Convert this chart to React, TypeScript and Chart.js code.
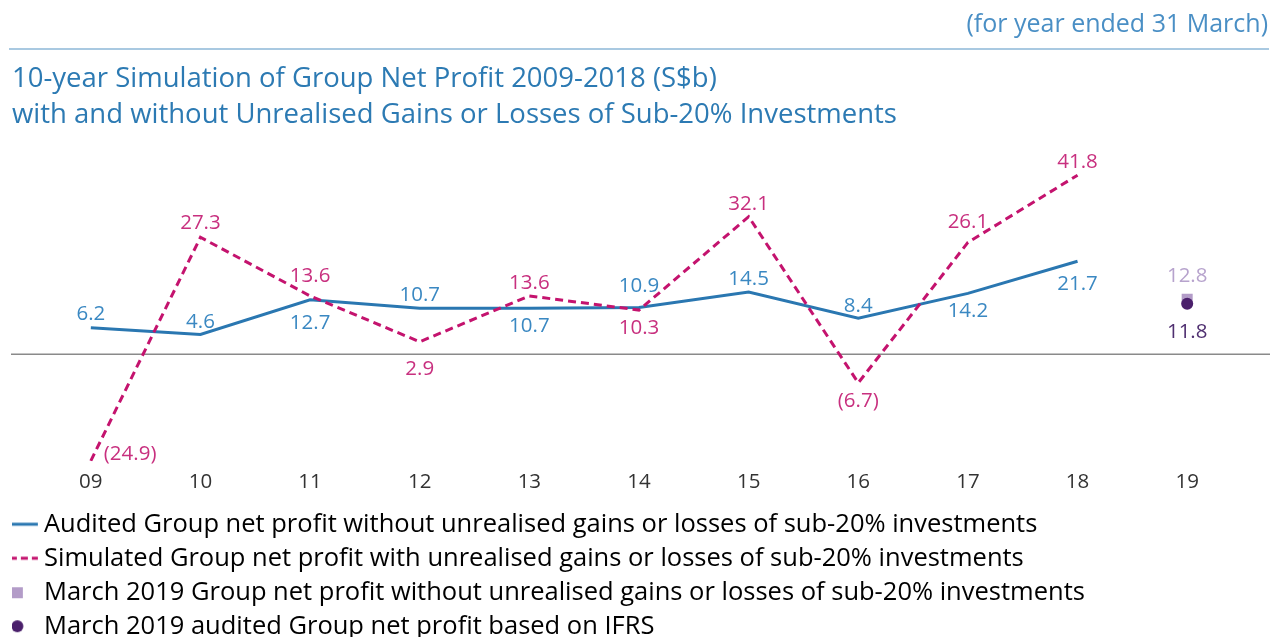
import { useEffect, useRef } from "react";
import { Chart, registerables } from "chart.js";

Chart.register(...registerables);

// ---------- data ----------
const years = ["09", "10", "11", "12", "13", "14", "15", "16", "17", "18", "19"];
const auditedProfit = [6.2, 4.6, 12.7, 10.7, 10.7, 10.9, 14.5, 8.4, 14.2, 21.7, null];
const simulatedProfit = [-24.9, 27.3, 13.6, 2.9, 13.6, 10.3, 32.1, -6.7, 26.1, 41.8, null];
const march2019WithoutUnrealised = [null, null, null, null, null, null, null, null, null, null, 12.8];
const march2019Ifrs = [null, null, null, null, null, null, null, null, null, null, 11.8];

const legendTexts = [
  "Audited Group net profit without unrealised gains or losses of sub-20% investments",
  "Simulated Group net profit with unrealised gains or losses of sub-20% investments",
  "March 2019 Group net profit without unrealised gains or losses of sub-20% investments",
  "March 2019 audited Group net profit based on IFRS",
];
const titleText = "(for year ended 31 March)";
const subtitleLines = [
  "10-year Simulation of Group Net Profit 2009-2018 (S$b)",
  "with and without Unrealised Gains or Losses of Sub-20% Investments",
];

// ---------- label placement (style, px offsets from each point) ----------
const auditedLabelDy = [-14, -13, 22, -14, 17, -22, -14, -13, 17, 22, 0];
const simulatedLabelDy = [-8, -15, -21, 26, -14, 17, -14, 17, -21, -14, 0];
const simulatedLabelDx = [13, 0, 0, 0, 0, 0, 0, 0, 0, 0, 0];
const withoutLabelDy = [0, 0, 0, 0, 0, 0, 0, 0, 0, 0, -24];
const ifrsLabelDy = [0, 0, 0, 0, 0, 0, 0, 0, 0, 0, 28];

// ---------- colours ----------
const BLUE = "#2a77b1";
const BLUE_LABEL = "#3a88c2";
const PINK = "#c4136e";
const PINK_LABEL = "#c8307f";
const LILAC = "#b39cc8";
const LILAC_LABEL = "#b7a3cd";
const PURPLE = "#4a1f6b";
const PURPLE_LABEL = "#4f2f70";
const FONT = "'Open Sans', 'Noto Sans', sans-serif";
const LABEL_SIZE = 20.5;

const fmt = (v: number) => (v < 0 ? `(${Math.abs(v).toFixed(1)})` : v.toFixed(1));

function makeMarker(kind: string): HTMLCanvasElement {
  const c = document.createElement("canvas");
  c.width = 32;
  c.height = 14;
  const g = c.getContext("2d")!;
  if (kind === "solid" || kind === "dashed") {
    g.strokeStyle = kind === "solid" ? BLUE : PINK;
    g.lineWidth = 3;
    if (kind === "dashed") g.setLineDash([7, 4]);
    g.beginPath();
    g.moveTo(0, 7);
    g.lineTo(28, 7);
    g.stroke();
  } else if (kind === "square") {
    g.fillStyle = LILAC;
    g.fillRect(2, 2, 11, 11);
  } else {
    g.fillStyle = PURPLE;
    g.beginPath();
    g.arc(7.5, 7, 6, 0, Math.PI * 2);
    g.fill();
  }
  return c;
}

const labelSets = [
  { color: BLUE_LABEL, dy: auditedLabelDy, dx: null as number[] | null },
  { color: PINK_LABEL, dy: simulatedLabelDy, dx: simulatedLabelDx },
  { color: LILAC_LABEL, dy: withoutLabelDy, dx: null },
  { color: PURPLE_LABEL, dy: ifrsLabelDy, dx: null },
];

const decorPlugin = {
  id: "decor",
  beforeDatasetsDraw(chart: any) {
    const ctx = chart.ctx;
    const y0 = chart.scales.y.getPixelForValue(0);
    ctx.save();
    ctx.strokeStyle = "#8a8a8a";
    ctx.lineWidth = 1.5;
    ctx.beginPath();
    ctx.moveTo(11, y0);
    ctx.lineTo(chart.width - 9, y0);
    ctx.stroke();
    ctx.restore();
  },
  afterDatasetsDraw(chart: any) {
    const ctx = chart.ctx;
    ctx.save();
    ctx.font = `${LABEL_SIZE}px ${FONT}`;
    ctx.textBaseline = "middle";
    chart.data.datasets.forEach((ds: any, di: number) => {
      const meta = chart.getDatasetMeta(di);
      const set = labelSets[di];
      meta.data.forEach((el: any, i: number) => {
        const v = ds.data[i];
        if (v == null) return;
        const dx = set.dx ? set.dx[i] : 0;
        ctx.fillStyle = set.color;
        ctx.textAlign = dx ? "left" : "center";
        ctx.fillText(fmt(v), el.x + dx, el.y + set.dy[i] + 1);
      });
    });
    ctx.restore();
  },
  afterDraw(chart: any) {
    const ctx = chart.ctx;
    const tb = chart.titleBlock;
    if (!tb) return;
    ctx.save();
    ctx.strokeStyle = "#8db7d7";
    ctx.lineWidth = 1.5;
    ctx.beginPath();
    ctx.moveTo(9, tb.bottom);
    ctx.lineTo(chart.width - 10, tb.bottom);
    ctx.stroke();
    ctx.restore();
  },
};

export default function App() {
  const ref = useRef<HTMLCanvasElement | null>(null);

  useEffect(() => {
    if (!ref.current) return;
    const markers = [makeMarker("solid"), makeMarker("dashed"), makeMarker("square"), makeMarker("circle")];
    const chart = new Chart(ref.current, {
      type: "line",
      data: {
        labels: years,
        datasets: [
          {
            label: legendTexts[0],
            data: auditedProfit,
            borderColor: BLUE,
            backgroundColor: BLUE,
            borderWidth: 3,
            pointRadius: 0,
            tension: 0,
            order: 2,
          },
          {
            label: legendTexts[1],
            data: simulatedProfit,
            borderColor: PINK,
            backgroundColor: PINK,
            borderWidth: 3,
            borderDash: [8, 5],
            pointRadius: 0,
            tension: 0,
            order: 1,
          },
          {
            label: legendTexts[2],
            data: march2019WithoutUnrealised,
            showLine: false,
            pointStyle: "rect",
            pointRadius: 7.8,
            backgroundColor: LILAC,
            borderColor: LILAC,
            borderWidth: 0,
            order: 0.5,
          },
          {
            label: legendTexts[3],
            data: march2019Ifrs,
            showLine: false,
            pointStyle: "circle",
            pointRadius: 6,
            backgroundColor: PURPLE,
            borderColor: PURPLE,
            borderWidth: 0,
            order: 0,
          },
        ] as any,
      },
      options: {
        responsive: false,
        devicePixelRatio: 1,
        animation: false,
        events: [],
        layout: { padding: { left: 12, right: 11, top: 0, bottom: 0 } },
        font: { family: FONT } as any,
        plugins: {
          tooltip: { enabled: false },
          title: {
            display: true,
            text: titleText,
            align: "end",
            color: "#4a8fc5",
            font: { family: FONT, size: 25, weight: "normal", lineHeight: 1.2 },
            padding: { top: 10, bottom: 9 },
          },
          subtitle: {
            display: true,
            text: subtitleLines,
            align: "start",
            color: "#2c7ab3",
            font: { family: FONT, size: 27.5, weight: "normal", lineHeight: 1.31 },
            padding: { top: 12, bottom: 7 },
          },
          legend: {
            display: true,
            position: "bottom",
            align: "start",
            labels: {
              usePointStyle: true,
              boxWidth: 10.75,
              padding: 8.5,
              color: "#3c3c3c",
              font: { family: FONT, size: 25.5 },
              generateLabels: () =>
                legendTexts.map((t, i) => ({
                  text: t,
                  pointStyle: markers[i],
                  fillStyle: "transparent",
                  strokeStyle: "transparent",
                  lineWidth: 0,
                  hidden: false,
                  datasetIndex: i,
                })) as any,
            },
          },
        },
        scales: {
          x: {
            type: "category",
            offset: true,
            grid: { display: false, drawTicks: false },
            border: { display: false },
            ticks: { color: "#333333", font: { family: FONT, size: 20.5, lineHeight: 1.2 }, padding: 8.7 },
            afterFit: (s: any) => {
              s.height = 41.75;
            },
          },
          y: {
            type: "linear",
            min: -25,
            max: 50,
            grid: { display: false, drawTicks: false },
            border: { display: false },
            ticks: { display: false },
            afterFit: (s: any) => {
              s.width = 24;
            },
          },
          y2: {
            type: "linear",
            position: "right",
            grid: { display: false, drawTicks: false },
            border: { display: false },
            ticks: { display: false },
            afterFit: (s: any) => {
              s.width = 26;
            },
          },
        } as any,
      },
      plugins: [decorPlugin],
    });
    return () => chart.destroy();
  }, []);

  return (
    <div style={{ position: "fixed", left: 0, top: 0, width: 1279, height: 649, overflow: "hidden", background: "#fff" }}>
      <canvas ref={ref} width={1279} height={649} style={{ display: "block" }} />
    </div>
  );
}
